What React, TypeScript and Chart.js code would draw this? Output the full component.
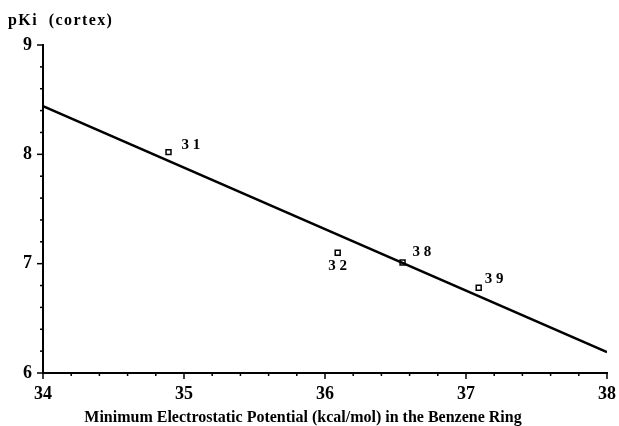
import React, { useEffect, useRef } from "react";
import { Chart, registerables } from "chart.js";
Chart.register(...registerables);

const compoundLabels = ["31", "32", "38", "39"];
const potentialX = [34.89, 36.09, 36.55, 37.09];
const pKiY = [8.02, 7.1, 7.01, 6.78];
const fitX = [34, 38];
const fitY = [8.44, 6.19];
const xTicks = [34, 35, 36, 37, 38];
const yTicks = [6, 7, 8, 9];
const yTitle = "pKi  (cortex)";
const xTitle = "Minimum Electrostatic Potential (kcal/mol) in the Benzene Ring";

// label offsets (style)
const labelOffsets = [
  [13, -7],
  [0, 13],
  [10, -10],
  [6, -9],
];

const FONT = "'Liberation Serif', 'Times New Roman', serif";

const decorPlugin = {
  id: "decor",
  afterDraw(chart: any) {
    const ctx = chart.ctx;
    const xs = chart.scales.x;
    const ys = chart.scales.y;
    const ca = chart.chartArea;
    ctx.save();
    ctx.strokeStyle = "#000";
    ctx.lineWidth = 1.5;
    for (let i = 0; i <= 20; i++) {
      const v = 34 + i * 0.2;
      const px = xs.getPixelForValue(v);
      const major = i % 5 === 0;
      ctx.beginPath();
      ctx.moveTo(px, ca.bottom);
      ctx.lineTo(px, ca.bottom + (major ? 6 : 3));
      ctx.stroke();
    }
    for (let i = 0; i <= 15; i++) {
      const v = 6 + i * 0.2;
      const py = ys.getPixelForValue(v);
      const major = i % 5 === 0;
      ctx.beginPath();
      ctx.moveTo(ca.left, py);
      ctx.lineTo(ca.left - (major ? 6 : 3), py);
      ctx.stroke();
    }
    const meta = chart.getDatasetMeta(1);
    ctx.fillStyle = "#000";
    ctx.font = `bold 15px ${FONT}`;
    ctx.textBaseline = "middle";
    meta.data.forEach((el: any, i: number) => {
      const [dx, dy] = labelOffsets[i];
      ctx.textAlign = dx === 0 ? "center" : "left";
      ctx.fillText(compoundLabels[i].split("").join(" "), el.x + dx, el.y + dy);
    });
    ctx.textBaseline = "alphabetic";
    ctx.font = `bold 16px ${FONT}`;
    (ctx as any).letterSpacing = "1.4px";
    ctx.textAlign = "left";
    ctx.fillText(yTitle, 8, 25);
    (ctx as any).letterSpacing = "0px";
    ctx.textAlign = "center";
    ctx.fillText(xTitle, 303, 422);
    ctx.restore();
  },
};

export default function App() {
  const ref = useRef<HTMLCanvasElement>(null);
  useEffect(() => {
    const chart = new Chart(ref.current!, {
      type: "scatter",
      data: {
        datasets: [
          {
            type: "line",
            data: fitX.map((x, i) => ({ x, y: fitY[i] })),
            borderColor: "#000",
            borderWidth: 2.5,
            pointRadius: 0,
            fill: false,
          } as any,
          {
            data: potentialX.map((x, i) => ({ x, y: pKiY[i] })),
            pointStyle: "rect",
            pointRadius: 3.5,
            borderColor: "#000",
            borderWidth: 1.5,
            backgroundColor: "#fff",
          },
        ],
      },
      options: {
        animation: false,
        responsive: false,
        maintainAspectRatio: false,
        layout: { padding: { left: 0, right: 12, top: 45, bottom: 0 } },
        plugins: { legend: { display: false }, tooltip: { enabled: false } },
        scales: {
          x: {
            type: "linear",
            min: 34,
            max: 38,
            afterFit: (s: any) => {
              s.height = 53;
              s.paddingLeft = 0;
              s.paddingRight = 0;
            },
            afterBuildTicks: (s: any) => {
              s.ticks = xTicks.map((v) => ({ value: v }));
            },
            grid: { display: false, drawTicks: false },
            border: { display: true, color: "#000", width: 2 },
            ticks: {
              padding: 11,
              color: "#000",
              font: { family: FONT, size: 18, weight: "bold" },
              maxRotation: 0,
            },
          },
          y: {
            type: "linear",
            min: 6,
            max: 9,
            afterFit: (s: any) => {
              s.width = 43;
              s.paddingTop = 0;
              s.paddingBottom = 0;
            },
            afterBuildTicks: (s: any) => {
              s.ticks = yTicks.map((v) => ({ value: v }));
            },
            grid: { display: false, drawTicks: false },
            border: { display: true, color: "#000", width: 2 },
            ticks: {
              padding: 11,
              color: "#000",
              font: { family: FONT, size: 18, weight: "bold" },
            },
          },
        },
      },
      plugins: [decorPlugin],
    });
    return () => chart.destroy();
  }, []);
  return (
    <div style={{ position: "fixed", left: 0, top: 0, width: 619, height: 426, background: "#fff" }}>
      <canvas ref={ref} width={619} height={426} />
    </div>
  );
}
